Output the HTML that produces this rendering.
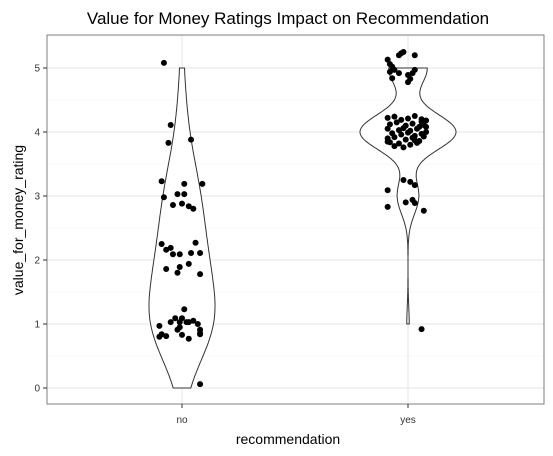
<!DOCTYPE html>
<html><head><meta charset="utf-8"><style>
body{margin:0;background:#fff;}
svg{display:block;font-family:"Liberation Sans","DejaVu Sans",sans-serif;}
</style></head><body>
<svg id="chart" width="553" height="456">
<rect x="0" y="0" width="553" height="456" fill="#fff"/>
<g id="grid"></g>
<g id="violins"></g>
<g id="points"></g>
<rect x="47" y="35" width="497" height="369" fill="none" stroke="#7f7f7f" stroke-width="1"/>
<g id="axes"></g>
<text x="288" y="24" text-anchor="middle" font-size="17" fill="#000">Value for Money Ratings Impact on Recommendation</text>
<text x="288" y="444" text-anchor="middle" font-size="14" fill="#000">recommendation</text>
<text transform="translate(23,220) rotate(-90)" text-anchor="middle" font-size="14" fill="#000">value_for_money_rating</text>
</svg>
<script>
const categories = ["no", "yes"];
const yTicks = [0, 1, 2, 3, 4, 5];
const noX = [-0.08,-0.05,-0.06,0.04,-0.09,-0.08,-0.02,0.01,0.09,0.01,-0.04,0.00,0.03,0.05,-0.09,-0.07,-0.05,-0.04,-0.01,0.04,0.08,0.06,-0.07,-0.01,-0.02,0.03,0.08,-0.10,-0.09,-0.10,-0.07,-0.03,-0.05,0.01,-0.02,-0.01,0.03,0.05,0.07,0.02,0.08,0.08,0.08,0.03,-0.01,0.00,0.00,0.08];
const noY = [5.08,4.11,3.83,3.88,3.23,2.98,3.03,3.03,3.19,3.19,2.86,2.88,2.84,2.80,2.25,2.16,2.19,2.09,2.09,2.11,2.11,2.27,1.86,1.89,1.80,1.94,1.78,0.97,0.84,0.80,0.81,1.09,1.03,1.23,0.91,0.95,1.03,1.05,1.00,1.03,0.91,0.84,0.86,0.77,1.03,1.09,0.83,0.06];
const yesX = [-0.03,-0.02,0.03,-0.04,-0.09,-0.08,-0.07,-0.08,-0.06,-0.04,0.00,0.02,0.01,-0.07,0.00,0.03,
 -0.09,-0.06,-0.03,0.00,0.03,0.06,0.08,-0.08,-0.05,-0.01,0.02,0.05,0.07,-0.09,-0.04,-0.02,0.01,0.04,0.08,-0.07,-0.03,0.00,0.03,0.06,-0.09,-0.06,-0.01,0.02,0.05,0.07,-0.08,-0.04,0.01,0.04,-0.06,-0.02,0.03,0.06,-0.09,0.08,
 -0.02,0.01,0.03,-0.09,-0.01,0.02,0.03,-0.09,0.07,0.06];
const yesY = [5.23,5.25,5.20,5.20,5.13,5.06,5.02,4.94,4.97,4.92,4.89,4.92,4.83,4.84,4.78,4.97,
 4.22,4.24,4.19,4.21,4.25,4.20,4.18,4.12,4.15,4.10,4.13,4.08,4.11,4.05,4.03,4.06,4.02,4.05,4.00,3.98,3.96,3.99,3.94,3.97,3.90,3.92,3.88,3.91,3.86,3.93,3.84,3.82,3.80,3.83,3.78,3.76,3.87,4.16,3.85,4.08,
 3.25,3.22,3.17,3.09,2.90,2.94,2.89,2.83,2.77,0.92];
const series = {no:[noX,noY], yes:[yesX,yesY]};
const NS="http://www.w3.org/2000/svg";
const L=47,R=544,T=35,B=404;
const yS=v=>388-v*64;
const xS=i=>182+i*226;
const halfMax={no:33,yes:48};
const bwAdjust={no:1.4,yes:1.0};
function mk(tag,attrs,parent){const e=document.createElementNS(NS,tag);for(const k in attrs)e.setAttribute(k,attrs[k]);parent.appendChild(e);return e;}
const grid=document.getElementById('grid');
for(let v=-0.5;v<=5.5;v+=0.5){const y=yS(v);if(y<T||y>B)continue;
 const ln=mk('line',{x1:L,x2:R,y1:y,y2:y,stroke:Number.isInteger(v)?'#e5e5e5':'#f2f2f2','stroke-width':Number.isInteger(v)?1:0.6},grid);
 
 }
categories.forEach((c,i)=>{const ln=mk('line',{x1:xS(i),x2:xS(i),y1:T,y2:B,stroke:'#e5e5e5','stroke-width':1},grid);
 
 });
const axes=document.getElementById('axes');
yTicks.forEach(v=>{const y=yS(v);
 const t=mk('line',{x1:43,x2:47,y1:y,y2:y,stroke:'#333'},axes);
 
 
 const tx=mk('text',{x:40,y:y+3.5,'text-anchor':'end','font-size':10,fill:'#333'},axes);tx.textContent=v;
 
 });
categories.forEach((c,i)=>{const x=xS(i);
 const t=mk('line',{x1:x,x2:x,y1:404,y2:408,stroke:'#333'},axes);
 
 
 const tx=mk('text',{x:x,y:423,'text-anchor':'middle','font-size':10,fill:'#333'},axes);tx.textContent=c;
 
 });
function sd(a){const m=a.reduce((s,v)=>s+v,0)/a.length;return Math.sqrt(a.reduce((s,v)=>s+(v-m)**2,0)/(a.length-1));}
function q(a,p){const s=[...a].sort((x,y)=>x-y);const h=(s.length-1)*p;const lo=Math.floor(h);return s[lo]+(s[Math.ceil(h)]-s[lo])*(h-lo);}
const vg=document.getElementById('violins');
categories.forEach((c,i)=>{
 const vals=series[c][1].map(v=>Math.round(v));
 const s=sd(vals);let lo=Math.min(s,(q(vals,0.75)-q(vals,0.25))/1.34);if(!lo)lo=s;
 const bw=bwAdjust[c]*0.9*lo*Math.pow(vals.length,-0.2);
 const mn=Math.min(...vals),mx=Math.max(...vals);
 const pts=[];let dmax=0;
 for(let k=0;k<=200;k++){const y=mn+(mx-mn)*k/200;let d=0;vals.forEach(v=>{d+=Math.exp(-0.5*((y-v)/bw)**2);});pts.push([y,d]);dmax=Math.max(dmax,d);}
 const cx=xS(i),sc=halfMax[c]/dmax;
 let dstr='';pts.forEach((p,k)=>{dstr+=(k?'L':'M')+(cx+p[1]*sc).toFixed(1)+','+yS(p[0]).toFixed(1);});
 for(let k=pts.length-1;k>=0;k--){const p=pts[k];dstr+='L'+(cx-p[1]*sc).toFixed(1)+','+yS(p[0]).toFixed(1);}
 dstr+='Z';
 const path=mk('path',{d:dstr,fill:'#fff',stroke:'#333','stroke-width':1},vg);
 
 
});
const pg=document.getElementById('points');
categories.forEach((c,i)=>{const [xs,ys]=series[c];
 ys.forEach((v,k)=>{const p=mk('circle',{cx:xS(i+xs[k]),cy:yS(v),r:3,fill:'#000'},pg);
 
 });});
</script>
</body></html>
